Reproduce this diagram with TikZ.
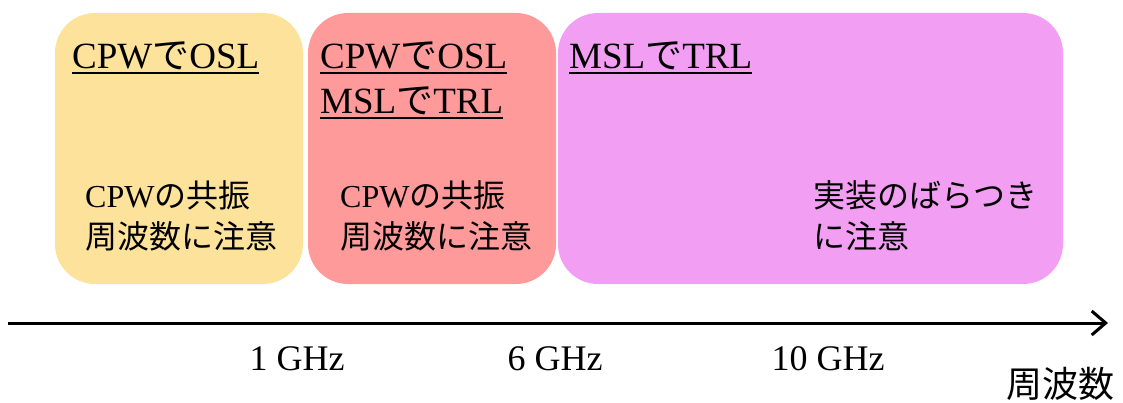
\documentclass[tikz,border=0pt]{standalone}
\usepackage{fontspec}
\setmainfont{Liberation Serif}
\newfontfamily\jpfont{Noto Sans CJK JP}
\newcommand{\jp}[1]{{\jpfont #1}}
\newcommand{\ulined}[1]{\setbox0\hbox{#1}\rlap{\rule[-5pt]{\wd0}{2pt}}\box0}
\usetikzlibrary{positioning,arrows.meta}
\definecolor{bandyellow}{HTML}{FDE29B}
\definecolor{bandred}{HTML}{FF9A9A}
\definecolor{bandviolet}{HTML}{F29EF2}

\begin{document}
\begin{tikzpicture}[x=1pt,y=-1pt,>=Stealth, every node/.style={inner sep=0pt}]
        \useasboundingbox (0,0) rectangle (1123,403);
        \tikzset{band/.style={rounded corners=40pt,minimum height=271pt},
                 heading/.style={font=\fontsize{37}{45}\selectfont,align=left,anchor=base west},
                 remark/.style={font=\fontsize{32}{40}\selectfont,align=left,anchor=base west},
                 tick/.style={font=\fontsize{36}{40}\selectfont,anchor=base}}
        \node[band,fill=bandyellow,minimum width=248pt] (low) at (179,148.5) {};
        \node[band,fill=bandred,minimum width=248pt] (mid) at (432,148.5) {};
        \node[band,fill=bandviolet,minimum width=505pt] (high) at (810.5,148.5) {};
        % multi-line nodes sit on the baseline of their last line
        \node[heading] (lowhead) at (72,69) {\ulined{CPW\jp{で}OSL}};
        \node[heading] (midhead) at (320,114) {\ulined{CPW\jp{で}OSL}\\\ulined{MSL\jp{で}TRL}};
        \node[heading] (highhead) at (569,69) {\ulined{MSL\jp{で}TRL}};
        \node[remark] (lownote) at (85,248) {CPW\jp{の共振}\\\jp{周波数に注意}};
        \node[remark] (midnote) at (340,248) {CPW\jp{の共振}\\\jp{周波数に注意}};
        \node[remark] (highnote) at (813,248) {\jp{実装のばらつき}\\\jp{に注意}};
        % frequency axis
        \coordinate (axstart) at (8,323);
        \coordinate (axend) at (1108,323);
        \draw[-{Straight Barb[length=14pt,width=24pt]},line width=3pt] (axstart) -- (axend);
        \node[tick] (f1) at (297,370) {1 GHz};
        \node[tick] (f6) at (555,370) {6 GHz};
        \node[tick] (f10) at (828,370) {10 GHz};
        \node[tick,anchor=base west] (faxis) at (1006,397) {\jp{周波数}};
      \end{tikzpicture}
\end{document}
